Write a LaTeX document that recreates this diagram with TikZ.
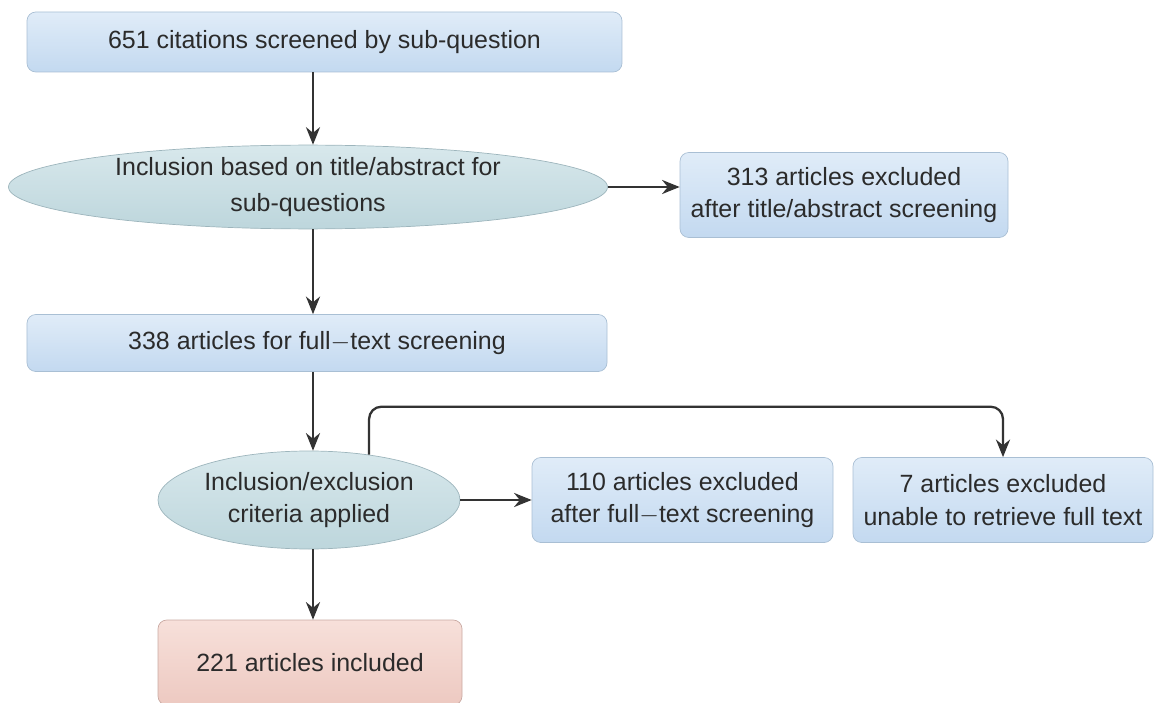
\documentclass[tikz,border=0pt]{standalone}
\usepackage{fontspec}
\setmainfont{Liberation Sans}
\usepackage{xcolor}
\usepackage{tikz}
\usetikzlibrary{arrows.meta, shapes.geometric}

\definecolor{boxtop}{HTML}{E0ECF8}
\definecolor{boxbot}{HTML}{C3D9F0}
\definecolor{boxline}{HTML}{A9BFD4}
\definecolor{elltop}{HTML}{D8E8EC}
\definecolor{ellbot}{HTML}{BDD6DC}
\definecolor{ellline}{HTML}{9DB5BC}
\definecolor{inctop}{HTML}{F7E0DA}
\definecolor{incbot}{HTML}{EDC9C1}
\definecolor{incline}{HTML}{C9A9A2}
\definecolor{txt}{HTML}{2B2B2B}

\begin{document}
\begin{tikzpicture}[
    font=\fontsize{14.2}{18.5}\selectfont, text=txt,
    stepbox/.style={draw=boxline, top color=boxtop, bottom color=boxbot,
        rounded corners=5pt, align=center, inner sep=0pt},
    decide/.style={ellipse, draw=ellline, top color=elltop, bottom color=ellbot,
        align=center, inner sep=0pt},
    donebox/.style={draw=incline, top color=inctop, bottom color=incbot,
        rounded corners=5pt, align=center, inner sep=0pt},
    arr/.style={draw=black!80, line width=1.3pt, -{Stealth[length=10pt,width=8pt]}}
]
    \useasboundingbox (0,0) rectangle (23.14,-14.06);

    % main column
    \node[stepbox, minimum width=11.9cm, minimum height=1.2cm] (cit) at (6.49,-0.84)
        {651 citations screened by sub-question};
    \node[decide, minimum width=11.98cm, minimum height=1.62cm] (title) at (6.16,-3.74)
        {Inclusion based on title/abstract for\\[2pt]sub-questions};
    \node[stepbox, minimum width=11.6cm, minimum height=1.14cm] (full) at (6.34,-6.86)
        {338 articles for full$-$text screening};
    \node[decide, minimum width=6.04cm, minimum height=1.96cm] (crit) at (6.18,-10.0)
        {Inclusion/exclusion\\criteria applied};
    \node[donebox, minimum width=6.08cm, minimum height=1.7cm] (inc) at (6.2,-13.25)
        {221 articles included};

    % excluded boxes
    \node[stepbox, minimum width=6.56cm, minimum height=1.7cm] (exA) at (16.88,-3.9)
        {313 articles excluded\\after title/abstract screening};
    \node[stepbox, minimum width=6.02cm, minimum height=1.7cm] (exB) at (13.65,-10.0)
        {110 articles excluded\\after full$-$text screening};
    \node[stepbox, minimum width=6.0cm, minimum height=1.7cm] (exC) at (20.06,-10.0)
        {7 articles excluded\\unable to retrieve full text};

    \coordinate (spine) at (6.26,0);

    \draw[arr] (spine |- cit.south) -- (spine |- title.north);
    \draw[arr] (spine |- title.south) -- (spine |- full.north);
    \draw[arr] (spine |- full.south) -- (spine |- crit.north);
    \draw[arr] (spine |- crit.south) -- (spine |- inc.north);

    \draw[arr] (title.east) -- (title.east -| exA.west);
    \draw[arr] (crit.east) -- (exB.west);
    % bracket over to the last box
    \draw[arr, rounded corners=7pt] (crit.37) -- ++(0,0.96) -| (exC.north);
\end{tikzpicture}
\end{document}
